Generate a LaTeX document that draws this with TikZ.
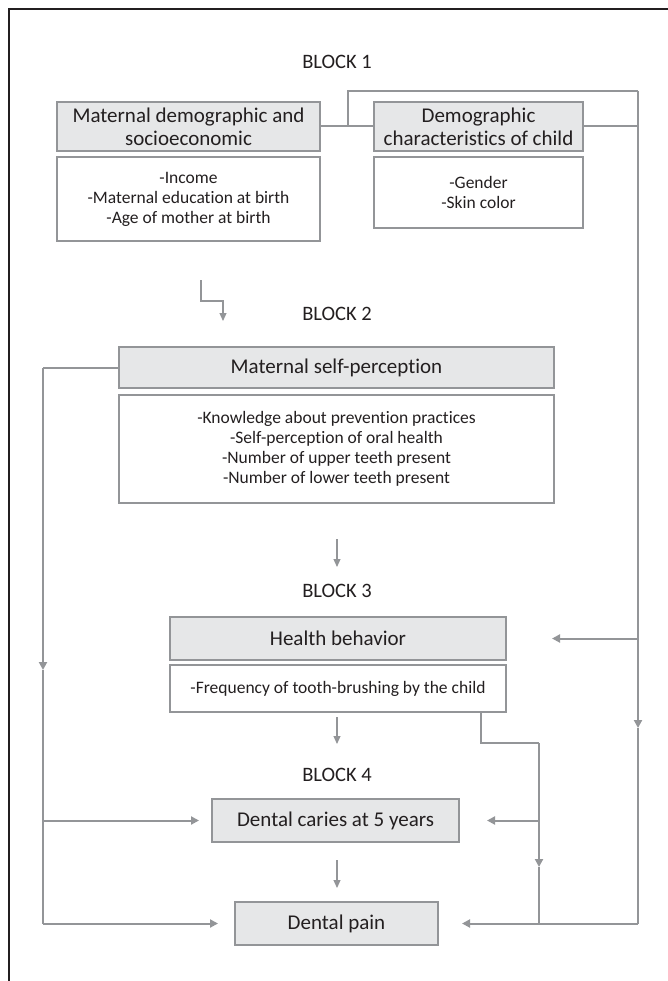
\documentclass[tikz,border=0pt]{standalone}
\usepackage{fontspec}
\setmainfont{Carlito}[Ligatures=NoCommon]
\usetikzlibrary{arrows.meta}
\definecolor{bord}{HTML}{939598}
\definecolor{boxfill}{HTML}{E6E7E8}
\definecolor{txt}{HTML}{231F20}
\begin{document}
\begin{tikzpicture}[x=1pt,y=-1pt,
  hbox/.style={draw=bord, fill=boxfill, line width=2pt, inner sep=0pt, align=center, text=txt,
    font=\fontsize{21}{23}\selectfont},
  lbox/.style={draw=bord, fill=white, line width=2pt, inner sep=0pt, align=center, text=txt,
    font=\fontsize{17.5}{20}\selectfont},
  blk/.style={text=txt, font=\fontsize{20.5}{23}\selectfont, inner sep=0pt},
  conn/.style={draw=bord, line width=2pt},
  arr/.style={conn, -{Triangle[length=8pt,width=8pt]}},
  tarr/.style={draw=bord, line width=1.1pt, -{Triangle[length=8pt,width=7pt]}}]
\useasboundingbox (0,0) rectangle (668,981);
\draw[txt, line width=1.2pt] (9,981) -- (9,9) -- (668,9);

% BLOCK 1
\node[blk] (b1) at (337,62) {BLOCK 1};
\node[hbox, minimum width=263pt, minimum height=49pt] (g1) at (188.5,126.5) {Maternal demographic and\\socioeconomic};
\node[lbox, minimum width=263pt, minimum height=84pt] (w1) at (188.5,199) {-Income\\-Maternal education at birth\\-Age of mother at birth};
\node[hbox, minimum width=209pt, minimum height=49pt] (g2) at (478.5,126.5) {Demographic\\characteristics of child};
\node[lbox, minimum width=209pt, minimum height=71pt] (w2) at (478.5,192.5) {-Gender\\-Skin color};

% BLOCK 2
\node[blk] (b2) at (337,314) {BLOCK 2};
\node[hbox, minimum width=435pt, minimum height=41pt] (g3) at (336.5,367.5) {Maternal self-perception};
\node[lbox, minimum width=435pt, minimum height=108pt] (w3) at (336.5,449) {-Knowledge about prevention practices\\-Self-perception of oral health\\-Number of upper teeth present\\-Number of lower teeth present};

% BLOCK 3
\node[blk] (b3) at (337,591) {BLOCK 3};
\node[hbox, minimum width=336pt, minimum height=43pt] (g4) at (338,638.5) {Health behavior};
\node[lbox, minimum width=336pt, minimum height=47pt] (w4) at (338,688.5) {-Frequency of tooth-brushing by the child};

% BLOCK 4
\node[blk] (b4) at (337,775) {BLOCK 4};
\node[hbox, minimum width=247pt, minimum height=43pt] (dc) at (335.5,820.5) {Dental caries at 5 years};
\node[hbox, minimum width=203pt, minimum height=43pt] (dp) at (336.5,923.5) {Dental pain};

% coordinates
\coordinate (j1) at (348,126.5);
\coordinate (rt) at (638,91);
\coordinate (rmid) at (638,728);
\coordinate (lx) at (43,0);
\coordinate (lmid) at (43,670);
\coordinate (bt) at (481,712);
\coordinate (bb) at (539,743);
\coordinate (bmid) at (539,867);
\coordinate (s1) at (201,280);
\coordinate (s2) at (201,301);
\coordinate (s3) at (223,301);
\coordinate (s4) at (223,321);
\coordinate (c1a) at (337,539);
\coordinate (c1b) at (337,567);
\coordinate (c2a) at (337,717);
\coordinate (c2b) at (337,744);
\coordinate (c3a) at (337,860);
\coordinate (c3b) at (337,888);

% block 1 connectors
\draw[conn] (g1.east) -- (g2.west);
\draw[conn] (j1) |- (rt);
\draw[arr] (rt) -- (rmid);
\draw[conn] (rmid) -- (dp.east -| rt);
\draw[conn] (g2.east) -- (g2.east -| rt);
\draw[arr, shorten >=45pt] (g4.east -| rt) -- (g4.east);
\draw[arr, shorten >=23pt] (dp.east -| rt) -- (dp.east);

% block 1 -> block 2 bent arrow
\draw[tarr] (s1) -- (s2) -- (s3) -- (s4);

% maternal self-perception left line
\draw[conn] (g3.west) -- (g3.west -| lx);
\draw[arr] (g3.west -| lx) -- (lmid);
\draw[conn] (lmid) -- (dp.west -| lx);
\draw[arr, shorten >=12pt] (dc.west -| lx) -- (dc.west);
\draw[arr, shorten >=16pt] (dp.west -| lx) -- (dp.west);

% health behavior branch
\draw[conn] (bt) |- (bb);
\draw[arr] (bb) -- (bmid);
\draw[conn] (bmid) -- (dp.east -| bb);
\draw[arr, shorten >=27pt] (dc.east -| bb) -- (dc.east);

% centre arrows
\draw[tarr] (c1a) -- (c1b);
\draw[tarr] (c2a) -- (c2b);
\draw[tarr] (c3a) -- (c3b);
\end{tikzpicture}
\end{document}
